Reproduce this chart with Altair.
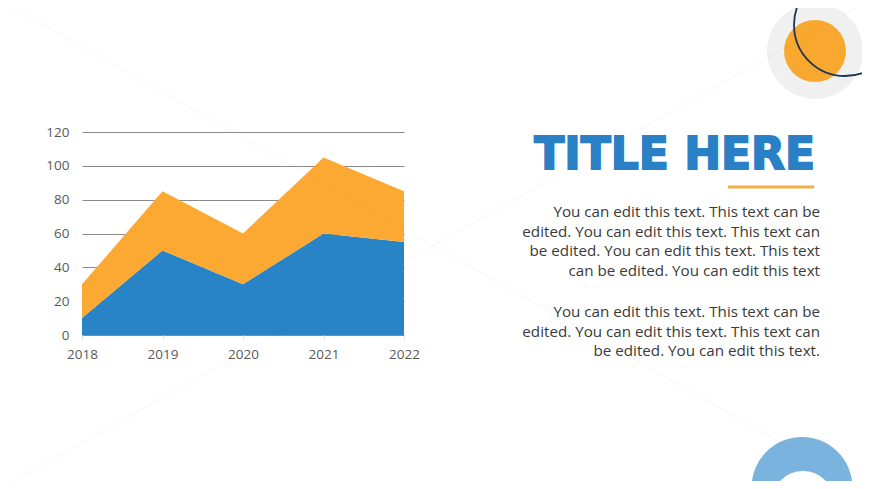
import altair as alt
import pandas as pd

years = [2018, 2019, 2020, 2021, 2022]
series_names = ["Series 1", "Series 2"]
series1 = [10, 50, 30, 60, 55]
series2 = [20, 35, 30, 45, 30]
y_ticks = [0, 20, 40, 60, 80, 100, 120]

title_text = "TITLE HERE"
para1 = [
    "You can edit this text. This text can be",
    "edited. You can edit this text. This text can",
    "be edited. You can edit this text. This text",
    "can be edited. You can edit this text",
]
para2 = [
    "You can edit this text. This text can be",
    "edited. You can edit this text. This text can",
    "be edited. You can edit this text.",
]

BLUE = "#2884c6"
ORANGE = "#fba932"

rows = []
for i, y in enumerate(years):
    rows.append({"year": y, "series": series_names[0], "value": series1[i], "ord": 0})
    rows.append({"year": y, "series": series_names[1], "value": series2[i], "ord": 1})
df = pd.DataFrame(rows)

W, H = 322, 203

area = alt.Chart(df).mark_area(opacity=1).encode(
    x=alt.X("year:Q", scale=alt.Scale(domain=[2018, 2022], nice=False, zero=False),
            axis=alt.Axis(values=years, format="d", title=None, grid=False, domain=False,
                          ticks=True, tickColor="#e3e3e3", tickSize=5, labelPadding=7,
                          labelFlush=False, labelOverlap=False,
                          labelFont="Open Sans", labelFontSize=13.5, labelColor="#595959")),
    y=alt.Y("value:Q", stack="zero", scale=alt.Scale(domain=[0, 120], nice=False),
            axis=alt.Axis(values=y_ticks, title=None, grid=True, gridColor="#8a8a8a",
                          gridWidth=1, domain=False, ticks=False, labelPadding=13,
                          labelFlush=False,
                          labelFont="Open Sans", labelFontSize=13.5, labelColor="#595959")),
    color=alt.Color("series:N", scale=alt.Scale(domain=series_names, range=[BLUE, ORANGE]),
                    legend=None),
    order=alt.Order("ord:Q"),
)

one = pd.DataFrame({"k": [0]})

def dot(x, y, r, color, filled=True, sw=0):
    if filled:
        m = alt.Chart(one).mark_point(shape="circle", filled=True, opacity=1,
                                      color=color, size=(2 * r) ** 2, strokeWidth=0)
    else:
        m = alt.Chart(one).mark_point(shape="circle", filled=False, opacity=1,
                                      color=color, size=(2 * r) ** 2, strokeWidth=sw)
    return m.encode(x=alt.value(x), y=alt.value(y))

ox, oy = 82, 132  # page position of plot origin

gray_c = dot(815 - ox, 51 - oy, 48, "#f0f0f0")
orange_c = dot(815 - ox, 51 - oy, 31, "#f9a82f")
navy_c = dot(845 - ox, 25 - oy, 51, "#1d3658", filled=False, sw=1.8)
donut_o = dot(802 - ox, 487.5 - oy, 50.5, "#7ab4de")
donut_i = dot(803 - ox, 502 - oy, 31, "#ffffff")

diag1 = alt.Chart(one).mark_rule(color="#000000", opacity=0.035, strokeWidth=1).encode(
    x=alt.value(0 - ox), y=alt.value(0 - oy), x2=alt.value(870 - ox), y2=alt.value(493 - oy))
diag2 = alt.Chart(one).mark_rule(color="#000000", opacity=0.035, strokeWidth=1).encode(
    x=alt.value(0 - ox), y=alt.value(489 - oy), x2=alt.value(870 - ox), y2=alt.value(0 - oy))

title = alt.Chart(one).mark_text(
    text=title_text, font="DejaVu Sans", fontWeight="bold", fontSize=44,
    color="#2a80c5", stroke="#2a80c5", strokeWidth=1.8,
    align="right", baseline="alphabetic"
).encode(x=alt.value(815 - ox), y=alt.value(169 - oy))

underline = alt.Chart(one).mark_rule(color="#f2ae47", strokeWidth=3).encode(
    x=alt.value(728 - ox), x2=alt.value(814 - ox), y=alt.value(187 - oy))

p1 = alt.Chart(one).mark_text(
    text=para1, font="Open Sans", fontSize=15.2, color="#3a3a3a", align="right",
    baseline="alphabetic", lineHeight=19.7
).encode(x=alt.value(820 - ox), y=alt.value(217 - oy))

p2 = alt.Chart(one).mark_text(
    text=para2, font="Open Sans", fontSize=15.2, color="#3a3a3a", align="right",
    baseline="alphabetic", lineHeight=19.7
).encode(x=alt.value(820 - ox), y=alt.value(317 - oy))

chart = alt.layer(
    gray_c, orange_c, navy_c, donut_o, donut_i, area, diag1, diag2, title, underline, p1, p2
).properties(
    width=W, height=H,
    autosize=alt.AutoSizeParams(type="none"),
    padding={"left": ox - 8, "top": oy - 8, "right": 854 - (ox - 8) - W, "bottom": 473 - (oy - 8) - H},
    background="#ffffff",
).configure_view(stroke=None)

chart.save("out.html", embed_options={"renderer": "svg", "actions": False})
